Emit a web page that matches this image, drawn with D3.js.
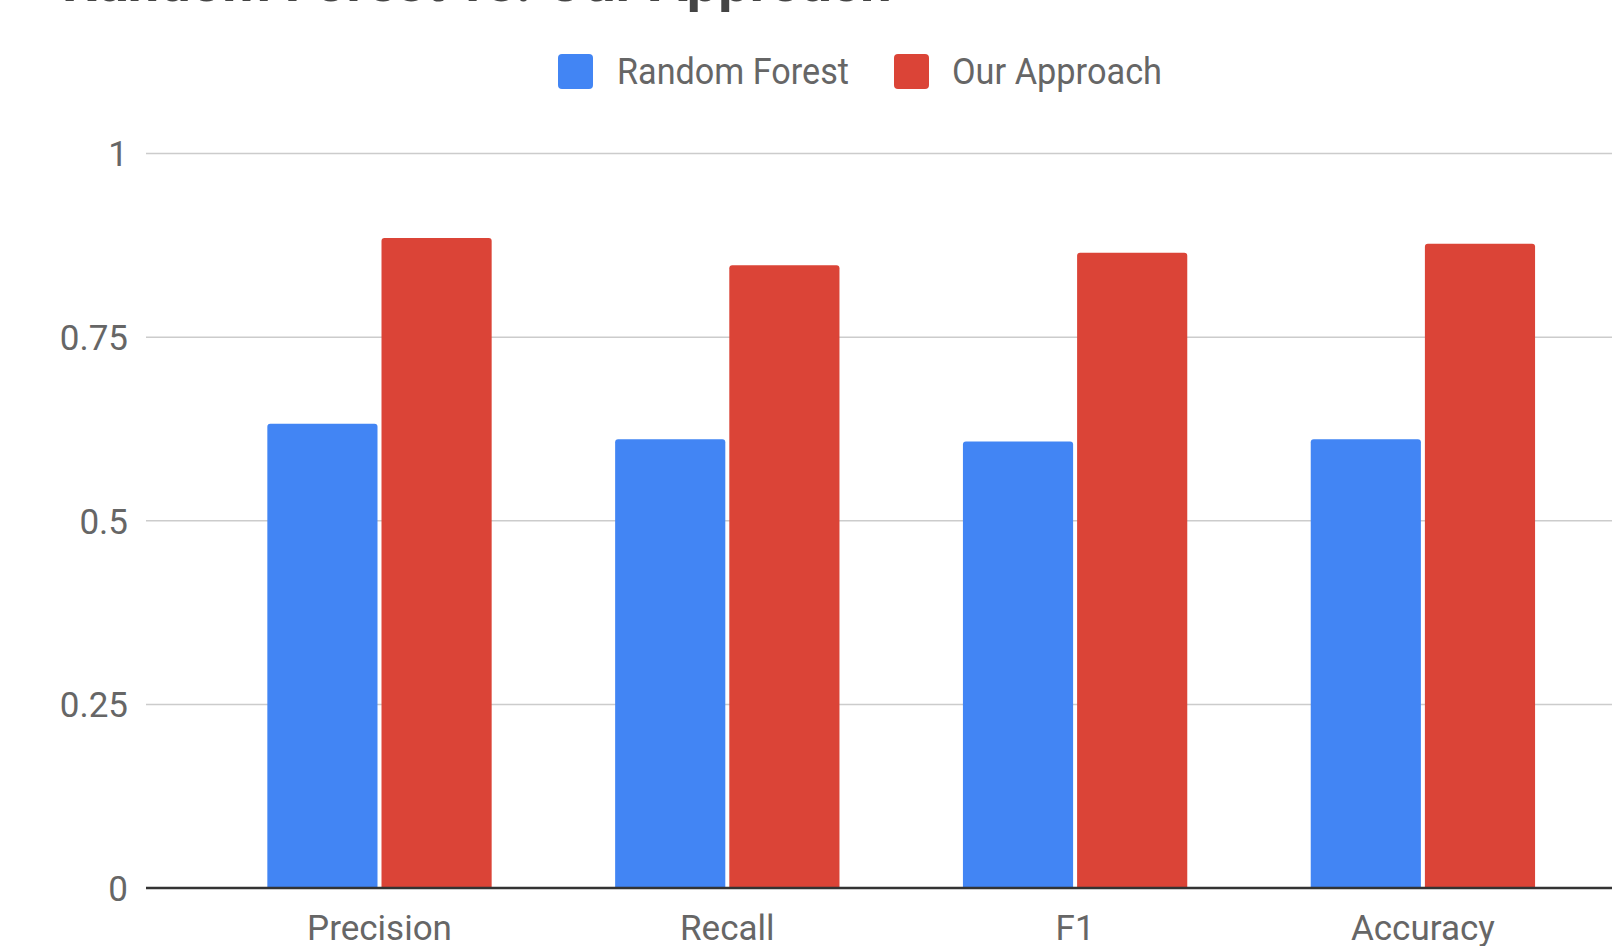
<!DOCTYPE html>
<html>
<head>
<meta charset="utf-8">
<script src="https://cdn.jsdelivr.net/npm/d3@7"></script>
<style>
  html, body { margin: 0; padding: 0; background: #fff; overflow: hidden; }
  svg { display: block; }
  text { font-family: Roboto, "Noto Sans", sans-serif; }
</style>
</head>
<body>
<svg id="chart" width="1612" height="946"></svg>
<script>
// ---- data ----
const categories = ["Precision", "Recall", "F1", "Accuracy"];
const seriesNames = ["Random Forest", "Our Approach"];
const randomForest = [0.632, 0.611, 0.608, 0.611];
const ourApproach = [0.885, 0.848, 0.865, 0.877];
const yTicks = [0, 0.25, 0.5, 0.75, 1];
const yTickLabels = ["0", "0.25", "0.5", "0.75", "1"];
const titleText = "Random Forest vs. Our Approach";

// ---- layout ----
const W = 1612, H = 946;
const plotLeft = 146, plotRight = 1612;
const colors = { "Random Forest": "#4285F4", "Our Approach": "#DB4437" };

const svg = d3.select("#chart");

const y = d3.scaleLinear().domain([0, 1]).range([888, 153.5]);
const x = d3.scaleBand().domain(categories).range([205.6, 1596.8])
  .paddingInner(0.355).paddingOuter(0.1775);
const xs = d3.scaleBand().domain(seriesNames).range([0, x.bandwidth()]).paddingInner(0.035);

// title (mostly cropped off at the top, as in the reference)
svg.append("text")
  .attr("x", 62).attr("y", 1)
  .attr("font-size", 56).attr("font-weight", "bold")
  .attr("fill", "#444")
  .text(titleText);

// gridlines
svg.append("g").selectAll("line")
  .data(yTicks.filter(d => d !== 0))
  .join("line")
  .attr("x1", plotLeft).attr("x2", plotRight)
  .attr("y1", d => y(d)).attr("y2", d => y(d))
  .attr("stroke", "#cccccc").attr("stroke-width", 1.5);

// y axis labels
const yAxis = d3.axisLeft(y).tickValues(yTicks)
  .tickFormat((d, i) => yTickLabels[i]).tickSize(0).tickPadding(0);
const yg = svg.append("g").attr("transform", `translate(128,0)`).call(yAxis);
yg.select(".domain").remove();
yg.selectAll("text")
  .attr("font-size", 35).attr("fill", "#666")
  .attr("font-family", "Roboto, sans-serif")
  .attr("dy", "0.35em");

// bars
const rows = categories.map((c, i) => ({ cat: c, vals: [
  { s: "Random Forest", v: randomForest[i] },
  { s: "Our Approach", v: ourApproach[i] }
]}));

function topRounded(x0, y0, w, h, r) {
  return `M${x0},${y0 + h}V${y0 + r}Q${x0},${y0} ${x0 + r},${y0}H${x0 + w - r}Q${x0 + w},${y0} ${x0 + w},${y0 + r}V${y0 + h}Z`;
}

const groups = svg.append("g").selectAll("g")
  .data(rows).join("g")
  .attr("transform", d => `translate(${x(d.cat)},0)`);
groups.selectAll("path")
  .data(d => d.vals).join("path")
  .attr("d", d => topRounded(xs(d.s), y(d.v), xs.bandwidth(), y(0) - y(d.v), 3))
  .attr("fill", d => colors[d.s]);

// baseline
svg.append("line")
  .attr("x1", plotLeft).attr("x2", plotRight)
  .attr("y1", y(0)).attr("y2", y(0))
  .attr("stroke", "#333").attr("stroke-width", 2.5);

// x axis labels
const xAxis = d3.axisBottom(x).tickSize(0).tickPadding(0);
const xg = svg.append("g").attr("transform", `translate(0,${y(0)})`).call(xAxis);
xg.select(".domain").remove();
xg.selectAll("text")
  .attr("font-size", 35).attr("fill", "#666")
  .attr("font-family", "Roboto, sans-serif")
  .attr("dy", null).attr("y", 52);

// legend
const legendItems = [
  { s: "Random Forest", sx: 558, tx: 617, tl: 232 },
  { s: "Our Approach", sx: 894, tx: 952, tl: 210 }
];
const lg = svg.append("g");
lg.selectAll("rect").data(legendItems).join("rect")
  .attr("x", d => d.sx).attr("y", 54).attr("width", 35).attr("height", 35)
  .attr("rx", 4).attr("fill", d => colors[d.s]);
lg.selectAll("text").data(legendItems).join("text")
  .attr("x", d => d.tx).attr("y", 84)
  .attr("font-size", 36).attr("fill", "#666")
  .attr("textLength", d => d.tl).attr("lengthAdjust", "spacingAndGlyphs")
  .text(d => d.s);
</script>
</body>
</html>
